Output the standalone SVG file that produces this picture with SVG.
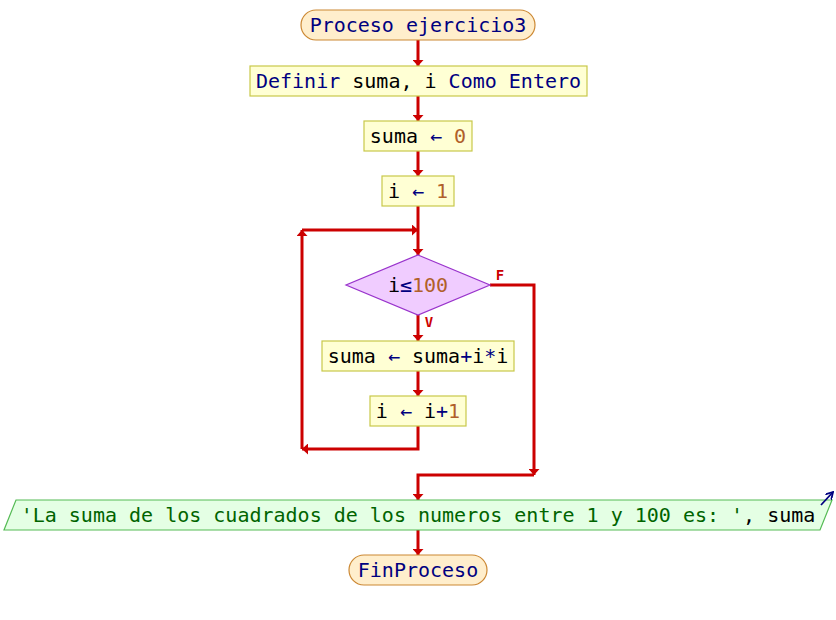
<svg xmlns="http://www.w3.org/2000/svg" width="836" height="620" viewBox="0 0 836 620">
<defs>
<style>
.t{font-family:"DejaVu Sans Mono","Liberation Mono",monospace;font-size:20px;text-anchor:middle}
.k{fill:#000080}.v{fill:#000000}.n{fill:#b0602a}.s{fill:#006400}
.term{fill:#ffeecc;stroke:#cc8833;stroke-width:1.2}
.box{fill:#ffffd4;stroke:#c8c84a;stroke-width:1.2}
.dec{fill:#f0ccff;stroke:#9933cc;stroke-width:1.2}
.out{fill:#e4ffe4;stroke:#55bb55;stroke-width:1.2}
.c{fill:none;stroke:#cc0000;stroke-width:3}
.lbl{font-family:"DejaVu Sans Mono","Liberation Mono",monospace;font-size:14px;font-weight:bold;fill:#cc0000}
</style>
<marker id="ah" markerUnits="userSpaceOnUse" viewBox="0 0 6 11" markerWidth="6" markerHeight="11" refX="6" refY="5.5" orient="auto">
<path d="M0,0 L6,5.5 L0,11 z" fill="#cc0000"/>
</marker>
<marker id="ob" markerUnits="userSpaceOnUse" viewBox="0 0 8 8" markerWidth="8" markerHeight="8" refX="7" refY="4" orient="auto">
<path d="M0,0 L7,4 L0,8" fill="none" stroke="#000080" stroke-width="1.8"/>
</marker>
</defs>
<rect width="836" height="620" fill="#ffffff"/>
<g id="connectors">
<path class="c" d="M418,40 V66" marker-end="url(#ah)"/>
<path class="c" d="M418,96 V121" marker-end="url(#ah)"/>
<path class="c" d="M418,151 V176" marker-end="url(#ah)"/>
<path class="c" d="M418,206 V255" marker-end="url(#ah)"/>
<path class="c" d="M418,315 V341" marker-end="url(#ah)"/>
<path class="c" d="M418,371 V396" marker-end="url(#ah)"/>
<path class="c" d="M418,426 V449 H302" marker-end="url(#ah)"/>
<path class="c" d="M302,449 V230" marker-end="url(#ah)"/>
<path class="c" d="M302,230 H418" marker-end="url(#ah)"/>
<path class="c" d="M490,285 H534 V475" marker-end="url(#ah)"/>
<path class="c" d="M534,475 H418 V500" marker-end="url(#ah)"/>
<path class="c" d="M418,530 V555" marker-end="url(#ah)"/>
<text class="lbl" x="500" y="280" text-anchor="middle">F</text>
<text class="lbl" x="429" y="327" text-anchor="middle">V</text>
</g>
<g id="start">
<rect class="term" x="301" y="10" width="234" height="30" rx="15"/>
<text class="t k" x="418" y="32">Proceso ejercicio3</text>
</g>
<g id="definir">
<rect class="box" x="250" y="66" width="337" height="30"/>
<text class="t" x="418.5" y="87.5"><tspan class="k">Definir </tspan><tspan class="v">suma, i </tspan><tspan class="k">Como Entero</tspan></text>
</g>
<g id="assign-suma">
<rect class="box" x="364" y="121" width="108" height="30"/>
<text class="t" x="418" y="142.5"><tspan class="v">suma </tspan><tspan class="k">←</tspan><tspan class="n"> 0</tspan></text>
</g>
<g id="assign-i">
<rect class="box" x="382" y="176" width="72" height="30"/>
<text class="t" x="418" y="197.5"><tspan class="v">i </tspan><tspan class="k">←</tspan><tspan class="n"> 1</tspan></text>
</g>
<g id="condition">
<polygon class="dec" points="418,255 490,285 418,315 346,285"/>
<text class="t" x="418" y="292"><tspan class="v">i</tspan><tspan class="k">≤</tspan><tspan class="n">100</tspan></text>
</g>
<g id="accumulate">
<rect class="box" x="322" y="341" width="192" height="30"/>
<text class="t" x="418" y="362.5"><tspan class="v">suma </tspan><tspan class="k">←</tspan><tspan class="v"> suma</tspan><tspan class="k">+</tspan><tspan class="v">i</tspan><tspan class="k">*</tspan><tspan class="v">i</tspan></text>
</g>
<g id="increment">
<rect class="box" x="370" y="396" width="96" height="30"/>
<text class="t" x="418" y="417.5"><tspan class="v">i </tspan><tspan class="k">←</tspan><tspan class="v"> i</tspan><tspan class="k">+</tspan><tspan class="n">1</tspan></text>
</g>
<g id="output">
<polygon class="out" points="16,500 832,500 820,530 4,530"/>
<text class="t" x="418" y="521.5"><tspan class="s">'La suma de los cuadrados de los numeros entre 1 y 100 es: '</tspan><tspan class="v">, suma</tspan></text>
<path d="M821,505 L833,492" fill="none" stroke="#000080" stroke-width="1.8" marker-end="url(#ob)"/>
</g>
<g id="end">
<rect class="term" x="349" y="555" width="138" height="30" rx="15"/>
<text class="t k" x="418" y="577">FinProceso</text>
</g>
</svg>
